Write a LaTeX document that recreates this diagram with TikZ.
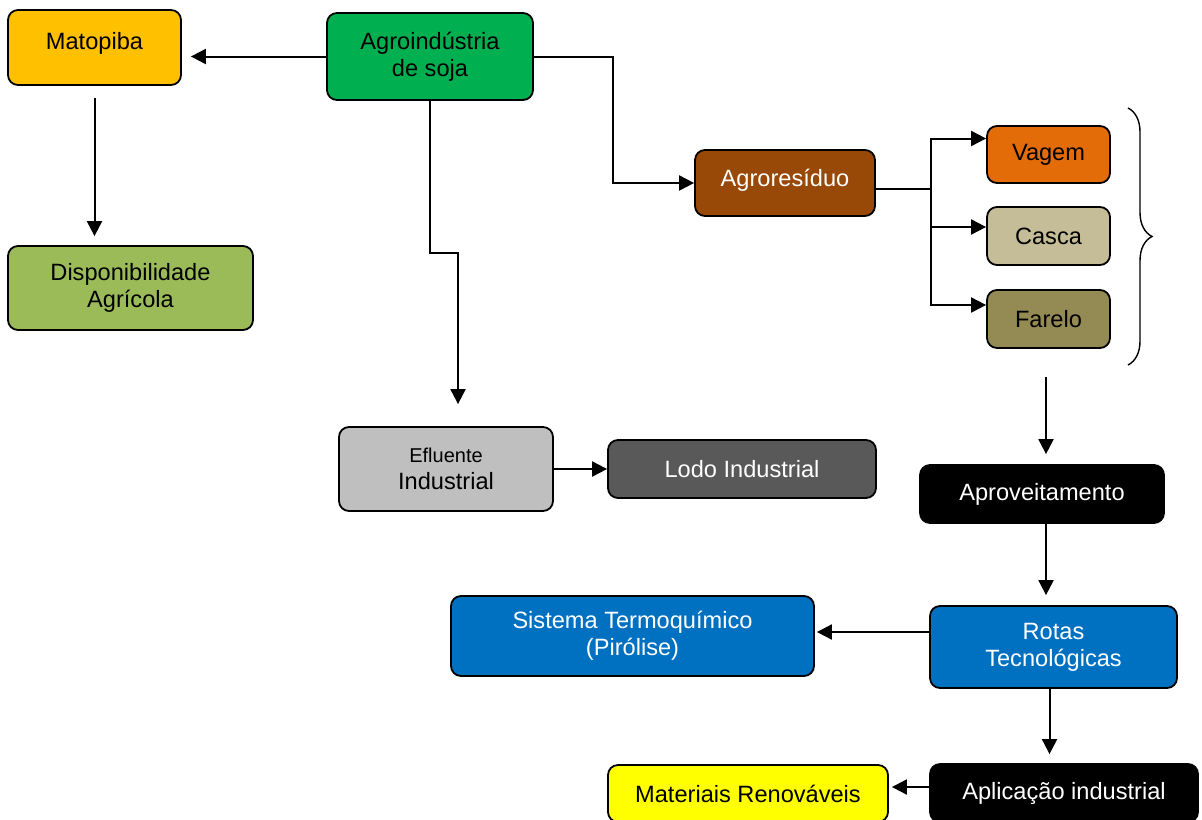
\documentclass[tikz,border=0pt]{standalone}
\usepackage{fontspec}
\setmainfont{Liberation Sans}
\usetikzlibrary{arrows.meta,decorations.pathreplacing}

\definecolor{matyel}{HTML}{FFC000}
\definecolor{agrogreen}{HTML}{00B050}
\definecolor{dispgreen}{HTML}{9BBB59}
\definecolor{resbrown}{HTML}{984807}
\definecolor{vagorange}{HTML}{E36C09}
\definecolor{cascatan}{HTML}{C4BD97}
\definecolor{fareloolive}{HTML}{948A54}
\definecolor{eflgray}{HTML}{BFBFBF}
\definecolor{lodogray}{HTML}{595959}
\definecolor{rotasblue}{HTML}{0070C0}
\definecolor{matyellow}{HTML}{FFFF00}

\begin{document}
\begin{tikzpicture}[x=0.5pt, y=-0.5pt,
    box/.style={draw, rounded corners=5pt, line width=0.9pt, inner sep=0pt, align=center,
        font=\fontsize{11.8}{13.5}\selectfont},
    arr/.style={-{Triangle[length=7.5pt, width=7.5pt]}, line width=1pt}]
    \useasboundingbox (0,0) rectangle (1202,819);

    \node (mat) [box, fill=matyel, minimum width=86.5pt, minimum height=37.5pt] at (94.5, 47.5) {\raisebox{7pt}{Matopiba}};
    \node (agro) [box, fill=agrogreen, minimum width=103pt, minimum height=43.5pt] at (430, 56.5) {Agroindústria\\de soja};
    \node (disp) [box, fill=dispgreen, minimum width=122.5pt, minimum height=42pt] at (130.5, 288) {Disponibilidade\\Agrícola};
    \node (res) [box, fill=resbrown, text=white, minimum width=90pt, minimum height=33pt] at (785, 183) {\raisebox{5pt}{Agroresíduo}};
    \node (vag) [box, fill=vagorange, minimum width=61.5pt, minimum height=28.5pt] at (1048.5, 154.5) {Vagem};
    \node (cas) [box, fill=cascatan, minimum width=61.5pt, minimum height=29pt] at (1048.5, 236) {Casca};
    \node (far) [box, fill=fareloolive, minimum width=61.5pt, minimum height=29pt] at (1048.5, 319) {Farelo};
    \node (efl) [box, fill=eflgray, minimum width=107pt, minimum height=42pt] at (446, 469) {{\fontsize{10}{13}\selectfont Efluente}\\Industrial};
    \node (lodo) [box, fill=lodogray, text=white, minimum width=134pt, minimum height=29pt] at (742, 469) {Lodo Industrial};
    \node (aprov) [box, fill=black, text=white, minimum width=122pt, minimum height=29pt] at (1042, 494) {Aproveitamento};
    \node (sist) [box, fill=rotasblue, text=white, minimum width=181.5pt, minimum height=40pt] at (632.5, 636) {Sistema Termoquímico\\(Pirólise)};
    \node (rotas) [box, fill=rotasblue, text=white, minimum width=123.5pt, minimum height=41pt] at (1053.5, 647) {Rotas\\Tecnológicas};
    \node (apl) [box, fill=black, text=white, minimum width=134pt, minimum height=29pt] at (1064, 793) {Aplicação industrial};
    \node (mren) [box, fill=matyellow, minimum width=140pt, minimum height=28.5pt] at (748, 793.5) {Materiais Renováveis};

    % brace over the three residues
    \draw[line width=0.7pt, decorate, decoration={brace, amplitude=12pt}] (1128, 108) -- (1128, 365);

    \coordinate (j1) at (458, 253);
    \coordinate (j2) at (613, 183);
    \coordinate (j3) at (931, 189);
    \coordinate (br) at (1046, 377);

    \path[arr]
    (agro.west) edge[shorten >=4.5pt] (mat.east |- agro.west)
    (mat.south) edge[shorten <=6pt, shorten >=4.5pt] (mat.south |- disp.north)
    (efl.east) edge (lodo.west)
    (br) edge[shorten >=5pt] (br |- aprov.north)
    (br |- aprov.south) edge[shorten >=5pt] (br |- rotas.north)
    ([yshift=7.5pt]rotas.west) edge[shorten >=1pt] ([yshift=7.5pt]rotas.west -| sist.east)
    ([xshift=-2pt]rotas.south) edge[shorten >=4.5pt] ([xshift=-2pt]rotas.south |- apl.north)
    ([yshift=3pt]apl.west) edge[shorten >=1.5pt] ([yshift=3pt]apl.west -| mren.east);

    \draw[arr] (agro.south) |- (j1) -- (j1 |- efl.north) [shorten >=11pt];
    \draw[arr] (agro.east) -| (j2) -- (res.west);
    \draw[line width=1pt] (res.east |- j3) -- (j3);
    \draw[arr] (j3) |- ([yshift=8pt]vag.west);
    \draw[arr] (j3) |- ([yshift=4.5pt]cas.west);
    \draw[arr] (j3) |- ([yshift=7pt]far.west);
\end{tikzpicture}
\end{document}
